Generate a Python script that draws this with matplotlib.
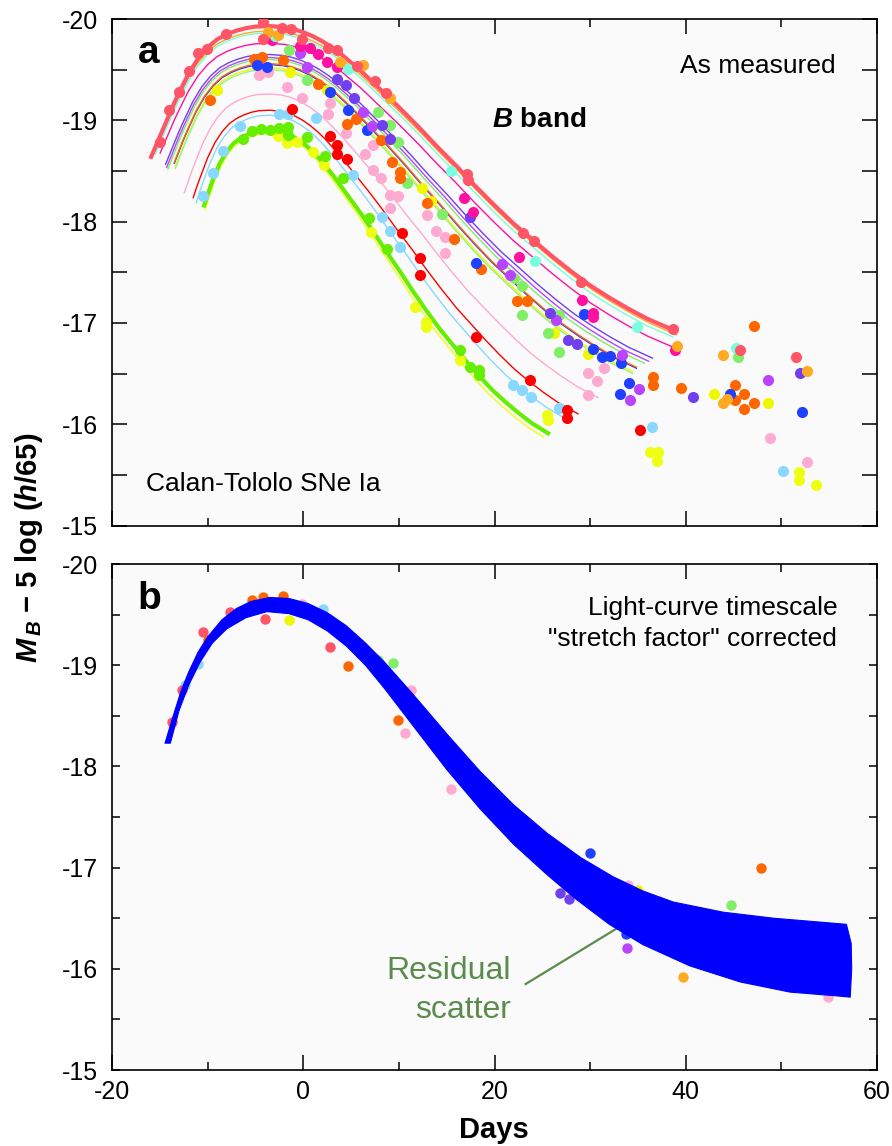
import numpy as np
import matplotlib
matplotlib.use("Agg")
import matplotlib.pyplot as plt
from matplotlib.ticker import MultipleLocator

plt.rcParams['font.family'] = ['Liberation Sans', 'DejaVu Sans']
plt.rcParams['axes.unicode_minus'] = False
plt.rcParams['mathtext.fontset'] = 'custom'
plt.rcParams['mathtext.it'] = 'Liberation Sans:italic:bold'
plt.rcParams['mathtext.rm'] = 'Liberation Sans:bold'
plt.rcParams['mathtext.bf'] = 'Liberation Sans:bold'

# ---------------- template light curve ----------
TEMPLATE_TAU = [-12.5, -12, -11.5, -11, -10.5, -10, -9.5, -8.5, -7.5, -6.5, -5.5, -4.5,
                -3.5, -2.5, -1.5, 0, 1.5, 2.5, 3.5, 4.5, 5.5, 6.5, 7.5, 8.5, 9.5, 10.5,
                11.5, 12.5, 13.5, 15.5, 17.5, 19.5, 21.5, 23.5, 25.5, 27.5, 29.5, 31.5,
                33.5, 35.5, 37.5, 39.5, 42.2]
TEMPLATE_DM = [1.31, 1.20, 1.09, 0.98, 0.87, 0.76, 0.66, 0.47, 0.32, 0.21, 0.13, 0.08,
               0.045, 0.02, 0.005, 0.0, 0.01, 0.03, 0.06, 0.10, 0.15, 0.21, 0.28, 0.36,
               0.44, 0.53, 0.62, 0.71, 0.80, 0.99, 1.19, 1.38, 1.58, 1.77, 1.95, 2.11,
               2.27, 2.42, 2.56, 2.68, 2.79, 2.89, 3.00]
PEAK_DAY = -3.5

# fitted curves (panel a)
CURVE_NAMES = ['salmon', 'orange', 'cyan', 'magenta', 'violet', 'purple', 'lgreen',
               'blue', 'ored', 'yellow', 'lgreen2', 'pink', 'red', 'lblue', 'green', 'yellow2']
CURVE_STRETCH = [1.0, 1.01, 1.0, 1.0, 0.95, 0.94, 0.93, 0.91, 0.91, 0.90, 0.90,
                 0.815, 0.765, 0.735, 0.694, 0.68]
CURVE_PEAK = [-19.93, -19.88, -19.86, -19.76, -19.65, -19.62, -19.60, -19.55, -19.56,
              -19.52, -19.50, -19.26, -19.10, -19.05, -18.90, -18.87]
CURVE_TAU0 = [-12.5, -12, -12, -11.5, -11.5, -11.5, -11.5, -11, -11, -11, -11, -11,
              -10.5, -10.5, -10, -10]

# ---------------- measured points (panel a) ----------------
SALMON_T = [-15.03, -14.01, -13.0, -11.92, -11.04, -10.03, -8.08, -4.18, -2.25, -1.33, -0.16,
            -4.18, 2.62, 3.56, 5.57, 7.50, 8.60, 17.09, 17.26, 23.01, 24.13, 29.05, 38.70, 45.7, 51.5]
SALMON_M = [-18.79, -19.10, -19.28, -19.49, -19.66, -19.70, -19.85, -19.97, -19.91, -19.90, -19.80,
            -19.80, -19.71, -19.69, -19.54, -19.39, -19.27, -18.47, -18.41, -17.89, -17.81, -17.40,
            -16.94, -16.73, -16.66]
ORANGE_T = [-3.65, -2.6, 3.84, 6.2, 9.07, 39.05, 43.9, 52.65, 43.9, 44.3]
ORANGE_M = [-19.87, -19.84, -19.58, -19.55, -19.22, -16.77, -16.68, -16.53, -16.21, -16.25]
CYAN_T = [-2.95, 4.71, 15.4, 24.2, 34.9, 45.3]
CYAN_M = [-19.83, -19.51, -18.50, -17.61, -16.96, -16.75]
MAGENTA_T = [-3.3, -0.34, 0.7, 1.57, 2.52, 3.56, 16.85, 17.8, 22.6, 29.2, 30.3, 30.3, 38.9]
MAGENTA_M = [-19.79, -19.73, -19.71, -19.65, -19.58, -19.53, -18.23, -18.10, -17.65, -17.23,
             -17.10, -17.06, -16.73]
VIOLET_T = [3.56, 4.47, 5.34, 8.2, 9.07, 17.4, 25.8, 27.7, 28.6, 40.8, 51.9]
VIOLET_M = [-19.41, -19.35, -19.22, -18.95, -18.82, -18.05, -17.10, -16.83, -16.79, -16.27, -16.51]
PURPLE_T = [-0.34, 0.36, 6.28, 7.16, 20.75, 21.6, 26.4, 33.3, 34.2, 35.1, 48.6]
PURPLE_M = [-19.66, -19.53, -19.08, -18.94, -17.58, -17.47, -17.03, -16.68, -16.24, -16.35, -16.44]
LGREEN_T = [-1.5, 0.36, 7.85, 9.07, 9.94, 10.8, 14.5, 22.0, 22.9, 22.85, 25.6, 26.7, 26.7, 45.5]
LGREEN_M = [-19.69, -19.40, -19.08, -18.95, -18.79, -18.38, -18.08, -17.44, -17.36, -17.08,
            -16.90, -17.08, -16.71, -16.66]
BLUE_T = [-4.87, -3.8, 2.8, 4.71, 6.63, 18.1, 29.4, 30.3, 31.2, 32.1, 33.2, 34.1, 33.1, 44.6, 52.2]
BLUE_M = [-19.55, -19.53, -19.28, -19.10, -18.90, -17.59, -17.09, -16.74, -16.66, -16.67, -16.60,
          -16.41, -16.30, -16.30, -16.12]
ORED_T = [-9.75, -5.2, -4.35, -2.15, 1.5, 4.54, 5.5, 8.1, 9.25, 10.1, 10.1, 12.9, 15.8, 18.6,
          22.3, 23.4, 36.6, 36.6, 39.5, 45.15, 46.1, 45.15, 47.1, 46.1, 47.1]
ORED_M = [-19.20, -19.61, -19.63, -19.60, -19.36, -18.96, -19.01, -18.81, -18.59, -18.49, -18.43,
          -18.18, -17.83, -17.53, -17.22, -17.22, -16.47, -16.39, -16.36, -16.39, -16.30, -16.24,
          -16.21, -16.15, -16.97]
YELLOW_T = [-9.05, -1.4, 2.45, 12.4, 13.4, 26.2, 29.8, 42.9, 48.6]
YELLOW_M = [-19.30, -19.48, -19.30, -18.33, -18.20, -16.90, -16.69, -16.30, -16.21]
PINK_T = [-4.6, -3.65, -1.7, -0.1, 2.8, 2.6, 4.5, 6.5, 7.33, 7.33, 8.1, 9.07, 9.94, 9.07, 12.9,
          13.9, 14.8, 14.8, 29.8, 30.7, 29.8, 31.4, 48.8, 52.65]
PINK_M = [-19.45, -19.48, -19.33, -19.22, -19.17, -19.06, -18.87, -18.67, -18.76, -18.51, -18.43,
          -18.26, -18.25, -18.13, -18.07, -17.91, -17.85, -17.69, -16.51, -16.43, -16.29, -16.56,
          -15.86, -15.63]
RED_T = [-1.2, 2.8, 3.56, 3.56, 4.54, 10.3, 12.2, 12.2, 18.1, 23.7, 27.6, 27.6, 35.2]
RED_M = [-19.11, -18.85, -18.76, -18.67, -18.62, -17.89, -17.64, -17.47, -16.86, -16.44, -16.14,
         -16.06, -15.94]
LBLUE_T = [-10.45, -9.47, -8.36, -6.6, -2.5, -1.56, 1.3, 5.24, 8.2, 9.07, 10.1, 21.9, 22.85, 23.8,
           26.7, 36.5, 50.2]
LBLUE_M = [-18.25, -18.48, -18.70, -18.94, -19.06, -19.06, -19.02, -18.46, -18.05, -17.91, -17.75,
           -16.39, -16.34, -16.27, -16.16, -15.97, -15.54]
GREEN_T = [-6.27, -5.4, -4.45, -3.48, -2.5, -1.56, -1.56, 0.36, 2.27, 4.12, 6.9, 8.8, 16.4, 17.4,
           18.4, 18.4]
GREEN_M = [-18.82, -18.89, -18.91, -18.90, -18.92, -18.93, -18.86, -18.84, -18.65, -18.43, -18.04,
           -17.73, -16.73, -16.57, -16.54, -16.49]
YELLOW2_T = [-2.6, -1.73, -0.7, 1.0, 2.2, 7.05, 11.7, 12.85, 12.85, 16.4, 25.45, 25.6, 36.3, 37.1,
             37.0, 51.8, 51.8, 53.6]
YELLOW2_M = [-18.85, -18.78, -18.79, -18.69, -18.56, -17.90, -17.16, -17.01, -16.96, -16.63,
             -16.09, -16.04, -15.73, -15.73, -15.64, -15.53, -15.45, -15.40]

# ---------------- panel b ----------------
BAND_UP_T = [-14.46, -13.6, -12.8, -12.0, -11.0, -10.0, -8.5, -7.0, -5.5, -3.5, -1.5, 0.5, 2.5,
             4.5, 6.5, 8.5, 11.5, 15.3, 18.5, 22.0, 25.5, 29.0, 32.4, 35.5, 38.7, 43.9, 49.2,
             56.8, 57.3]
BAND_UP_M = [-18.23, -18.50, -18.74, -18.93, -19.13, -19.28, -19.45, -19.56, -19.63, -19.67,
             -19.66, -19.61, -19.52, -19.39, -19.22, -19.03, -18.71, -18.29, -17.95, -17.62,
             -17.34, -17.10, -16.91, -16.77, -16.66, -16.56, -16.50, -16.44, -16.25]
BAND_LO_T = [-13.9, -13.0, -12.0, -10.8, -9.5, -8.0, -6.0, -3.8, -1.5, 0.5, 2.5, 4.5, 6.5, 8.5,
             11.5, 15.0, 18.5, 22.0, 25.5, 28.5, 32.0, 35.5, 40.4, 45.7, 50.9, 56.1, 57.2, 57.35]
BAND_LO_M = [-18.23, -18.55, -18.80, -19.03, -19.22, -19.36, -19.47, -19.53, -19.51, -19.45,
             -19.34, -19.19, -19.00, -18.77, -18.40, -17.97, -17.58, -17.23, -16.93, -16.69,
             -16.44, -16.24, -16.03, -15.87, -15.77, -15.73, -15.72, -16.00]
PB_T = [-5.39, -4.2, -2.09, -4.0, -1.46, 2.1, 2.8, 4.7, 9.4, 7.85, 11.3, 10.6, 9.9, -9.93, -10.45,
        -10.97, -12.4, -12.7, -13.76, -7.66, -0.17, 11.3, 12.9, 15.2, 15.35, 17.1, 15.5, 30.0,
        47.9, 34.0, 35.0, 26.85, 27.8, 44.7, 33.9, 33.8, 39.75, 54.9]
PB_M = [-19.64, -19.67, -19.68, -19.46, -19.45, -19.56, -19.18, -18.99, -19.02, -19.05, -18.76,
        -18.33, -18.46, -19.25, -19.33, -19.01, -18.80, -18.76, -18.44, -19.53, -19.61, -18.64,
        -18.36, -18.16, -18.13, -17.97, -17.78, -17.14, -17.00, -16.83, -16.78, -16.75, -16.69,
        -16.63, -16.21, -16.34, -15.92, -15.72]
PB_C = ['ored', 'ored', 'ored', 'salmon', 'yellow', 'lblue', 'salmon', 'ored', 'lgreen', 'lgreen',
        'pink', 'pink', 'ored', 'ored', 'salmon', 'lblue', 'lblue', 'salmon', 'salmon', 'salmon',
        'pink', 'lgreen', 'red', 'lgreen', 'red', 'violet', 'pink', 'blue', 'ored', 'pink',
        'yellow', 'violet', 'violet', 'lgreen', 'purple', 'blue', 'orange', 'pink']

COLORS = {'salmon': '#FF5566', 'orange': '#FFAA22', 'cyan': '#77FFDD', 'magenta': '#FF11A0',
          'violet': '#7040F0', 'purple': '#B844FF', 'lgreen': '#80EE66', 'lgreen2': '#99F088',
          'blue': '#2040FF', 'ored': '#FF6600', 'yellow': '#EEF800', 'pink': '#FFAAD0',
          'red': '#FF0000', 'lblue': '#88D8FF', 'green': '#66EE00', 'yellow2': '#EEFF11'}

# ---------------- figure ----------------
fig = plt.figure(figsize=(8.92, 11.46), dpi=100)
axa = fig.add_axes([0.1256, 0.5414, 0.8576, 0.4420])
axb = fig.add_axes([0.1256, 0.0663, 0.8576, 0.4415])


def style(ax, ylen_major, ylen_minor):
    ax.set_xlim(-20, 60)
    ax.set_ylim(-15, -20)
    ax.set_facecolor('#fafafa')
    ax.xaxis.set_major_locator(MultipleLocator(20))
    ax.xaxis.set_minor_locator(MultipleLocator(10))
    ax.yaxis.set_major_locator(MultipleLocator(1))
    ax.yaxis.set_minor_locator(MultipleLocator(0.5))
    ax.tick_params(axis='x', which='major', direction='in', length=11, width=1.1,
                   top=True, bottom=True, labelsize=18, pad=7)
    ax.tick_params(axis='x', which='minor', direction='in', length=5.5, width=1.1,
                   top=True, bottom=True)
    ax.tick_params(axis='y', which='major', direction='in', length=ylen_major, width=1.1,
                   left=True, right=True, labelsize=18, pad=10)
    ax.tick_params(axis='y', which='minor', direction='in', length=ylen_minor, width=1.1,
                   left=True, right=True)
    for sp in ax.spines.values():
        sp.set_linewidth(1.2)


style(axa, 11, 11)
style(axb, 6, 6)
axa.tick_params(labelbottom=False)

# panel a curves
tau = np.array(TEMPLATE_TAU)
dm = np.array(TEMPLATE_DM)
for name, s, pk, t0 in zip(CURVE_NAMES, CURVE_STRETCH, CURVE_PEAK, CURVE_TAU0):
    m = tau >= t0
    thick = name in ('salmon', 'green')
    axa.plot(PEAK_DAY + s * tau[m], pk + dm[m], color=COLORS[name],
             lw=3.0 if thick else 1.0, zorder=2.5 if thick else 2,
             solid_capstyle='butt')

points = [('yellow2', YELLOW2_T, YELLOW2_M), ('green', GREEN_T, GREEN_M),
          ('lblue', LBLUE_T, LBLUE_M), ('red', RED_T, RED_M), ('pink', PINK_T, PINK_M),
          ('yellow', YELLOW_T, YELLOW_M), ('lgreen', LGREEN_T, LGREEN_M),
          ('ored', ORED_T, ORED_M), ('blue', BLUE_T, BLUE_M), ('purple', PURPLE_T, PURPLE_M),
          ('violet', VIOLET_T, VIOLET_M), ('magenta', MAGENTA_T, MAGENTA_M),
          ('cyan', CYAN_T, CYAN_M), ('orange', ORANGE_T, ORANGE_M),
          ('salmon', SALMON_T, SALMON_M)]
for name, t, mg in points:
    axa.plot(t, mg, 'o', ms=8, color=COLORS[name], mec='none', zorder=3)

axa.text(0.034, 0.913, 'a', transform=axa.transAxes, fontsize=28, fontweight='bold',
         va='baseline', ha='left')
axa.text(0.946, 0.893, 'As measured', transform=axa.transAxes, fontsize=19,
         ha='right', va='baseline')
axa.text(0.497, 0.787, r'$B$ band', transform=axa.transAxes, fontsize=20,
         fontweight='bold', ha='left', va='baseline')
axa.text(0.045, 0.069, 'Calan-Tololo SNe Ia', transform=axa.transAxes, fontsize=19,
         ha='left', va='baseline')

# panel b
for t, mg, c in zip(PB_T, PB_M, PB_C):
    axb.plot(t, mg, 'o', ms=7.5, color=COLORS[c], mec='none', zorder=2)
bx = np.r_[BAND_UP_T, BAND_LO_T[::-1]]
by = np.r_[BAND_UP_M, BAND_LO_M[::-1]]
axb.fill(bx, by, color='#0000FF', lw=0.8, ec='#0000FF', joinstyle='round', zorder=3)

axb.plot([23.26, 32.8], [-15.85, -16.40], color='#5B8C4E', lw=1.6, zorder=2.5)
axb.text(21.7, -15.90, 'Residual', fontsize=23, color='#5B8C4E', ha='right', va='baseline')
axb.text(21.7, -15.514, 'scatter', fontsize=23, color='#5B8C4E', ha='right', va='baseline')

axb.text(0.033, 0.911, 'b', transform=axb.transAxes, fontsize=28, fontweight='bold',
         va='baseline', ha='left')
axb.text(0.948, 0.899, 'Light-curve timescale', transform=axb.transAxes, fontsize=19,
         ha='right', va='baseline')
axb.text(0.948, 0.838, '"stretch factor" corrected', transform=axb.transAxes, fontsize=19,
         ha='right', va='baseline')

fig.text(0.0325, 1 - 663 / 1146, r'$M_{\,B}$ − 5 log ($h$/65)', rotation=90, fontsize=21,
         fontweight='bold', ha='center', va='bottom')
fig.text(494 / 892, 1 - 1138 / 1146, 'Days', fontsize=21, fontweight='bold',
         ha='center', va='baseline')

fig.savefig('out.png', dpi=100, facecolor='white')
